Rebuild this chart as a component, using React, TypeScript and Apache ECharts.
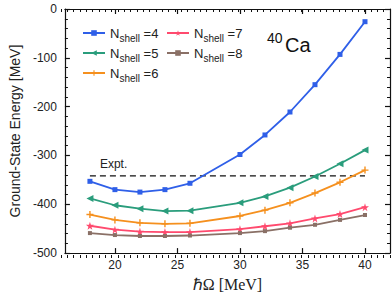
import React, { useEffect, useRef } from "react";
import * as echarts from "echarts";

const hw = [18, 20, 22, 24, 26, 30, 32, 34, 36, 38, 40];
const n4 = [-353, -370, -375, -370, -357, -298, -258, -211, -155, -93, -26];
const n5 = [-388, -402, -409, -414, -413, -397, -384, -366, -343, -317, -289];
const n6 = [-421, -432, -438, -440, -439, -424, -412, -397, -377, -355, -330];
const n7 = [-444, -452, -456, -457, -457, -451, -445, -439, -429, -420, -406];
const n8 = [-459, -463, -465, -465, -464, -459, -455, -448, -442, -432, -422];
const exptValue = -342;
const exptRange = [18, 40];
const xMajorTicks = [20, 25, 30, 35, 40];
const seriesNames = ["N4", "N5", "N6", "N7", "N8"];
const shellLabels = ["4", "5", "6", "7", "8"];

const SANS = "Liberation Sans";
const STAR = "path://M50,0 L61,35 L98,35 L68,57 L79,91 L50,70 L21,91 L32,57 L2,35 L39,35 Z";
const PLUS = "path://M4,0H6V4H10V6H6V10H4V6H0V4H4Z";

const colors = ["#2f5fe8", "#2a9d7c", "#f5901e", "#ff4a6e", "#8a7066"];
const symbols = ["rect", "triangle", PLUS, STAR, "rect"];
const symbolSizes = [5, 7, 7, 8, 4];
const symbolRotates = [0, 90, 0, 0, 0];

export default function App() {
  const ref = useRef<HTMLDivElement>(null);
  useEffect(() => {
    if (!ref.current) return;
    const chart = echarts.init(ref.current, undefined, { renderer: "svg" });
    const datasets = [n4, n5, n6, n7, n8];
    const lineSeries = datasets.map((d, i) => ({
      name: seriesNames[i],
      type: "line",
      xAxisIndex: 0,
      yAxisIndex: 0,
      data: d.map((v, j) => [hw[j], v]),
      symbol: symbols[i],
      symbolSize: symbolSizes[i],
      symbolRotate: symbolRotates[i],
      showSymbol: true,
      color: colors[i],
      lineStyle: { width: 1.8, color: colors[i] },
      itemStyle: { color: colors[i] },
      z: 3,
    }));
    const rich = {
      n: { fontFamily: SANS, fontSize: 13, color: "#222", lineHeight: 14 },
      s: { fontFamily: SANS, fontSize: 10, color: "#222", lineHeight: 12, padding: [10, 0, 0, 0] },
      e: { fontFamily: SANS, fontSize: 13, color: "#222", lineHeight: 14 },
    };
    const fmt = (name: string) => {
      const i = seriesNames.indexOf(name);
      return `{n|N}{s|shell}{e| =${shellLabels[i]}}`;
    };
    const legendBase = {
      orient: "vertical",
      top: 23,
      padding: 0,
      itemWidth: 22,
      itemHeight: 7,
      itemGap: 0,
      formatter: fmt,
      textStyle: { rich, fontFamily: SANS },
    };
    const axisLineStyle = { color: "#111", width: 1.2 };
    const minorLine = { color: "#111", width: 1 };
    const gridRect = { left: 61, right: 2, top: 9, bottom: 39 };
    const majorX = (position: string, withLabels: boolean) => ({
      type: "value",
      gridIndex: 0,
      position,
      min: 16,
      max: 42,
      axisLine: { show: true, onZero: false, lineStyle: axisLineStyle },
      axisTick: { show: true, inside: true, length: 5, customValues: xMajorTicks, lineStyle: axisLineStyle },
      axisLabel: withLabels
        ? { customValues: xMajorTicks, fontFamily: SANS, fontSize: 12, color: "#222", margin: 6 }
        : { show: false },
      splitLine: { show: false },
    });
    const minorX = (position: string) => ({
      type: "value",
      gridIndex: 1,
      position,
      min: 16,
      max: 42,
      interval: 0.5,
      axisLine: { show: false, onZero: false },
      axisTick: { show: true, inside: true, length: 3, lineStyle: minorLine },
      axisLabel: { show: false },
      splitLine: { show: false },
    });
    const option: any = {
      animation: false,
      backgroundColor: "#fff",
      grid: [gridRect, gridRect],
      legend: [
        { ...legendBase, left: 82, data: seriesNames.slice(0, 3) },
        { ...legendBase, left: 166, data: seriesNames.slice(3) },
      ],
      xAxis: [
        {
          ...majorX("bottom", true),
          name: "ℏΩ [MeV]",
          nameLocation: "middle",
          nameGap: 21,
          nameTextStyle: { fontFamily: "Liberation Serif", fontSize: 16, color: "#222" },
        },
        majorX("top", false),
        minorX("bottom"),
        minorX("top"),
      ],
      yAxis: [
        {
          type: "value",
          gridIndex: 0,
          position: "left",
          min: -500,
          max: 0,
          interval: 100,
          axisLine: { show: true, onZero: false, lineStyle: axisLineStyle },
          axisTick: { show: true, inside: true, length: 5, lineStyle: axisLineStyle },
          minorTick: { show: true, splitNumber: 5, length: 3, lineStyle: minorLine },
          axisLabel: { fontFamily: SANS, fontSize: 12, color: "#222", margin: 8 },
          splitLine: { show: false },
          minorSplitLine: { show: false },
          name: "Ground-State Energy [MeV]",
          nameLocation: "middle",
          nameGap: 41,
          nameTextStyle: { fontFamily: SANS, fontSize: 14, color: "#222" },
        },
        {
          type: "value",
          gridIndex: 0,
          position: "right",
          min: -500,
          max: 0,
          interval: 100,
          axisLine: { show: true, onZero: false, lineStyle: axisLineStyle },
          axisTick: { show: true, inside: true, length: 5, lineStyle: axisLineStyle },
          minorTick: { show: true, splitNumber: 5, length: 3, lineStyle: minorLine },
          axisLabel: { show: false },
          splitLine: { show: false },
          minorSplitLine: { show: false },
        },
        {
          type: "value",
          gridIndex: 1,
          min: -500,
          max: 0,
          show: false,
        },
      ],
      series: [
        {
          name: "Expt.",
          type: "line",
          xAxisIndex: 0,
          yAxisIndex: 0,
          symbol: "circle",
          symbolSize: 1,
          showSymbol: true,
          itemStyle: { color: "rgba(0,0,0,0)" },
          silent: true,
          z: 2,
          lineStyle: { color: "#111", width: 1.3, type: [6, 4] },
          data: [
            {
              value: [exptRange[0], exptValue],
              label: {
                show: true,
                formatter: "Expt.",
                position: "top",
                align: "left",
                offset: [10, 0],
                distance: 5,
                fontFamily: SANS,
                fontSize: 12,
                color: "#222",
              },
            },
            [exptRange[1], exptValue],
          ],
        },
        ...lineSeries,
      ],
      graphic: [
        {
          type: "text",
          left: 267,
          top: 31,
          style: { text: "40", fontFamily: SANS, fontSize: 14, fill: "#111" },
        },
        {
          type: "text",
          left: 285,
          top: 35,
          style: { text: "Ca", fontFamily: SANS, fontSize: 20, fill: "#111" },
        },
      ],
    };
    chart.setOption(option);
    return () => chart.dispose();
  }, []);
  return (
    <div
      ref={ref}
      style={{ position: "fixed", left: 0, top: 0, width: 392, height: 297 }}
    />
  );
}
